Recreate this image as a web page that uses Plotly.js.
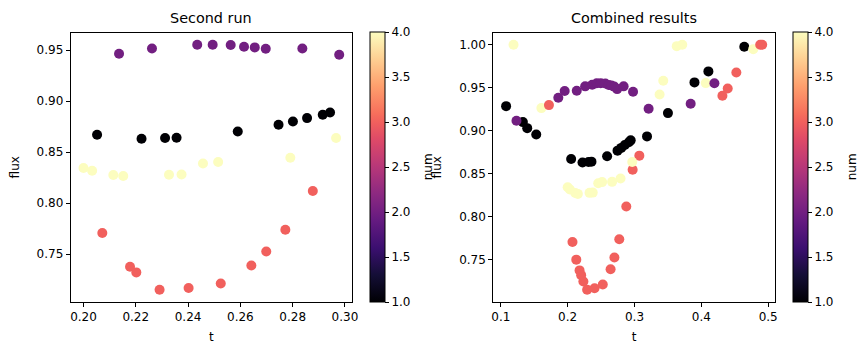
<!DOCTYPE html>
<html>
<head>
<meta charset="utf-8">
<script src="https://cdn.plot.ly/plotly-3.0.1.min.js"></script>
<style>html,body{margin:0;padding:0;background:#fff;}#chart{width:866px;height:355px;}</style>
</head>
<body>
<div id="chart"></div>
<script>
// ---- Second run (num groups: 1, 4, 2, 3) ----
const run2T = [
  0.2052,0.2222,0.2312,0.2356,0.2590,0.2746,0.2801,0.2855,0.2915,0.2943,
  0.2000,0.2033,0.2114,0.2152,0.2327,0.2375,0.2457,0.2515,0.2791,0.2966,
  0.2136,0.2262,0.2435,0.2494,0.2563,0.2614,0.2655,0.2697,0.2837,0.2978,
  0.2072,0.2178,0.2202,0.2291,0.2402,0.2525,0.2642,0.2699,0.2772,0.2877
];
const run2Flux = [
  0.8670,0.8630,0.8637,0.8640,0.8702,0.8768,0.8800,0.8833,0.8866,0.8888,
  0.8343,0.8317,0.8275,0.8265,0.8277,0.8280,0.8388,0.8402,0.8444,0.8637,
  0.9464,0.9516,0.9552,0.9552,0.9549,0.9532,0.9526,0.9513,0.9516,0.9454,
  0.7706,0.7375,0.7320,0.7150,0.7167,0.7212,0.7388,0.7525,0.7738,0.8118
];
const run2Num = [
  1,1,1,1,1,1,1,1,1,1,
  4,4,4,4,4,4,4,4,4,4,
  2,2,2,2,2,2,2,2,2,2,
  3,3,3,3,3,3,3,3,3,3
];

// ---- Other run(s), only in the combined plot ----
const run1T = [
  0.1079,0.1330,0.1395,0.1530,0.3187,0.3500,0.3897,0.4105,0.4642,
  0.1190,0.1607,0.2665,0.3375,0.3430,0.3632,0.3714,0.4066,0.4776,
  0.1234,0.1860,0.1955,0.2367,0.2740,0.3211,0.3840,0.4195,
  0.1720,0.2129,0.2235,0.2972,0.3072,0.4315,0.4394,0.4523,0.4880,0.4910
];
const run1Flux = [
  0.9286,0.9100,0.9030,0.8955,0.8934,0.9205,0.9562,0.9690,0.9977,
  1.0000,0.9263,0.8405,0.9422,0.9581,0.9984,1.0000,0.9554,0.9949,
  0.9116,0.9384,0.9462,0.9535,0.9484,0.9256,0.9314,0.9553,
  0.9298,0.7500,0.7245,0.8545,0.8710,0.9407,0.9492,0.9678,1.0000,1.0000
];
const run1Num = [
  1,1,1,1,1,1,1,1,1,
  4,4,4,4,4,4,4,4,4,
  2,2,2,2,2,2,2,2,
  3,3,3,3,3,3,3,3,3,3
];

const combT = run1T.concat(run2T);
const combFlux = run1Flux.concat(run2Flux);
const combNum = run1Num.concat(run2Num);

const magma = [
  [0.0,'#000004'],[0.1,'#140e36'],[0.2,'#3b0f70'],[0.3,'#641a80'],[1/3,'#721f81'],
  [0.4,'#8c2981'],[0.5,'#b73779'],[0.6,'#de4968'],[2/3,'#f1605d'],[0.7,'#f7705c'],
  [0.8,'#fe9f6d'],[0.9,'#fecf92'],[1.0,'#fcfdbf']
];

function pad(arr){
  const lo = Math.min(...arr), hi = Math.max(...arr), m = (hi-lo)*0.05;
  return [lo-m, hi+m];
}

const W = 866, H = 355;
const FONT = 'DejaVu Sans, sans-serif';
const plotTop = 32.5, plotBottom = 302;
const yDom = [1-plotBottom/H, 1-plotTop/H];
const yMid = (yDom[0]+yDom[1])/2;

function cb(xpx){
  return {
    x: xpx/W, xanchor:'left', xpad:0,
    y: yDom[0], yanchor:'bottom', ypad:0,
    len: plotBottom-plotTop, lenmode:'pixels',
    thickness: 15, thicknessmode:'pixels',
    outlinewidth: 1, outlinecolor:'#000',
    ticks:'outside', ticklen:4, tickwidth:1, tickcolor:'#000',
    tickvals:[1,1.5,2,2.5,3,3.5,4], ticktext:['1.0','1.5','2.0','2.5','3.0','3.5','4.0'],
    tickfont:{family:FONT,size:12,color:'#000'}
  };
}

const trace1 = {
  type:'scatter', mode:'markers', x: run2T, y: run2Flux, xaxis:'x', yaxis:'y',
  marker:{size:10, color: run2Num, colorscale: magma, cmin:1, cmax:4, showscale:true,
          line:{width:0}, colorbar: cb(369.5)},
  showlegend:false, hoverinfo:'x+y'
};
const trace2 = {
  type:'scatter', mode:'markers', x: combT, y: combFlux, xaxis:'x2', yaxis:'y2',
  marker:{size:10, color: combNum, colorscale: magma, cmin:1, cmax:4, showscale:true,
          line:{width:0}, colorbar: cb(793)},
  showlegend:false, hoverinfo:'x+y'
};

function ax(extra){
  return Object.assign({
    showline:true, mirror:true, linecolor:'#000', linewidth:1,
    ticks:'outside', ticklen:4, tickwidth:1, tickcolor:'#000',
    showgrid:false, zeroline:false,
    tickfont:{family:FONT,size:12,color:'#000'}
  }, extra);
}

const lblFont = {family:FONT,size:12,color:'#000'};

const layout = {
  width: W, height: H,
  margin:{l:0,r:0,t:0,b:0},
  paper_bgcolor:'#fff', plot_bgcolor:'#fff',
  font:{family:FONT,size:12,color:'#000'},
  xaxis: ax({domain:[70.7/W, 352/W], range: pad(run2T), dtick:0.02, tick0:0, tickformat:'.2f',
    title:{text:'t', font:lblFont, standoff:9}, anchor:'y'}),
  yaxis: ax({domain:yDom, range: pad(run2Flux), dtick:0.05, tick0:0, tickformat:'.2f',
    title:{text:'flux', font:lblFont, standoff:14}, anchor:'x'}),
  xaxis2: ax({domain:[493.3/W, 775/W], range: pad(combT), dtick:0.1, tick0:0, tickformat:'.1f',
    title:{text:'t', font:lblFont, standoff:9}, anchor:'y2'}),
  yaxis2: ax({domain:yDom, range: pad(combFlux), dtick:0.05, tick0:0, tickformat:'.2f',
    title:{text:'flux', font:lblFont, standoff:14}, anchor:'x2'}),
  annotations:[
    {text:'Second run', xref:'paper', yref:'paper', x:(70.7+352)/2/W, y:1-27.5/H, xanchor:'center', yanchor:'bottom',
     showarrow:false, font:{family:FONT,size:14.4,color:'#000'}},
    {text:'Combined results', xref:'paper', yref:'paper', x:(493.3+775)/2/W, y:1-27.5/H, xanchor:'center', yanchor:'bottom',
     showarrow:false, font:{family:FONT,size:14.4,color:'#000'}},
    {text:'num', xref:'paper', yref:'paper', x:428/W, y:yMid, xanchor:'center', yanchor:'middle',
     textangle:-90, showarrow:false, font:lblFont},
    {text:'num', xref:'paper', yref:'paper', x:852/W, y:yMid, xanchor:'center', yanchor:'middle',
     textangle:-90, showarrow:false, font:lblFont}
  ]
};

Plotly.newPlot('chart', [trace1, trace2], layout, {displayModeBar:false, staticPlot:true});
</script>
</body>
</html>
